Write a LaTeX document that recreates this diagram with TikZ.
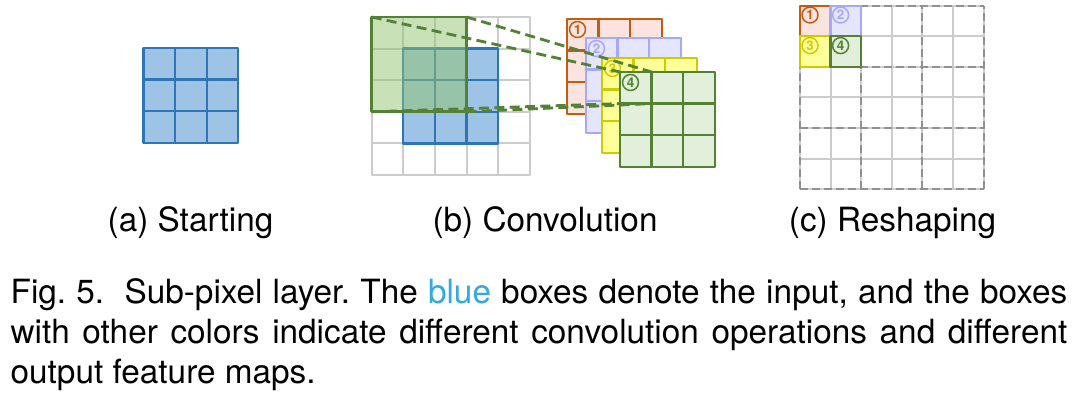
\documentclass[tikz,border=0pt]{standalone}
\usepackage{fontspec}
\setmainfont{TeX Gyre Heros}
\frenchspacing

\definecolor{inblue}{RGB}{46,117,182}
\definecolor{inbluefill}{RGB}{157,195,230}
\definecolor{gridgray}{RGB}{204,204,204}
\definecolor{dashgray}{RGB}{145,145,145}
\definecolor{mapred}{RGB}{197,90,17}
\definecolor{mapredfill}{RGB}{251,228,224}
\definecolor{mappurple}{RGB}{168,168,250}
\definecolor{mappurplefill}{RGB}{229,229,251}
\definecolor{mapyellow}{RGB}{206,204,0}
\definecolor{mapyellowfill}{RGB}{255,255,153}
\definecolor{mapgreen}{RGB}{84,130,53}
\definecolor{mapgreenfill}{RGB}{226,239,218}
\definecolor{winfill}{RGB}{146,196,110}
\definecolor{capblue}{RGB}{52,168,224}

\begin{document}
\begin{tikzpicture}[x=0.3pt, y=0.3pt, line join=round,
    graylines/.style={gridgray, line width=0.6pt},
    bluegrid/.style={inblue, line width=0.7pt},
    fmap/.style={line width=0.7pt},
    cellbox/.style={rectangle, inner sep=0pt, outer sep=0pt, minimum size=9.48pt},
    rcell/.style={rectangle, inner sep=0pt, outer sep=0pt, minimum size=9.18pt, line width=0.7pt},
    window/.style={rectangle, inner sep=0pt, outer sep=0pt, minimum size=28.44pt,
        draw=mapgreen, line width=0.8pt, fill=winfill, fill opacity=0.5},
    num/.style={circle, draw, line width=0.45pt, inner sep=0pt, minimum size=4.8pt,
        font=\fontsize{4}{4}\selectfont\bfseries},
    link/.style={mapgreen, line width=0.85pt, dash pattern=on 3pt off 1.6pt},
    dashgrid/.style={dashgray, line width=0.6pt, dash pattern=on 2.4pt off 1.2pt},
    caption/.style={font=\fontsize{10}{12}\selectfont, inner sep=0pt}]

    \useasboundingbox (0,0) rectangle (1074,401);

    % (a) starting
    \begin{scope}[shift={(143.5,258.2)}]
        \fill[inbluefill] (0,0) rectangle (94.8,94.8);
        \draw[bluegrid, step=31.6] (0,0) grid (94.8,94.8);
        \draw[bluegrid] (0,0) rectangle (94.8,94.8);
    \end{scope}

    % (b) convolution
    \begin{scope}[shift={(371.7,226)}]
        \draw[graylines, step=31.6] (0,0) grid (158,158);
        \draw[graylines] (0,0) rectangle (158,158);
        \fill[inbluefill] (31.6,31.6) rectangle (126.4,126.4);
        \draw[bluegrid, step=31.6] (31.6,31.6) grid (126.4,126.4);
        \draw[bluegrid] (31.6,31.6) rectangle (126.4,126.4);
        \node[window, anchor=north west] (win) at (0,158) {};
    \end{scope}

    % output feature maps
    \foreach \px/\py/\col/\n in {567/287.2/mapred/1, 586/268.2/mappurple/2,
                                  602/248.2/mapyellow/3, 620/234.2/mapgreen/4} {
        \begin{scope}[shift={(\px,\py)}]
            \fill[\col fill] (0,0) rectangle (94.8,94.8);
            \draw[\col, fmap, step=31.6] (0,0) grid (94.8,94.8);
            \draw[\col, fmap] (0,0) rectangle (94.8,94.8);
            \node[cellbox, anchor=north west] (cell\n) at (0,94.8) {};
            \node[num, \col] (num\n) at (10.5,84.3) {\n};
        \end{scope}
    }

    \draw[link] (win.north west) -- (cell4.north west);
    \draw[link] (win.north east) -- (cell4.north east);
    \draw[link] (win.south west) -- (cell4.south west);
    \draw[link] (win.south east) -- (cell4.south east);

    % (c) reshaping
    \begin{scope}[shift={(800,211.7)}]
        \draw[graylines, step=30.6] (0,0) grid (183.6,183.6);
        \foreach \k in {0,61.2,122.4,183.6} {
            \draw[dashgrid] (\k,0) -- (\k,183.6);
            \draw[dashgrid] (0,\k) -- (183.6,\k);
        }
        \node[rcell, draw=mapred, fill=mapredfill, anchor=north west] (r1) at (0,183.6) {};
        \node[rcell, draw=mappurple, fill=mappurplefill, anchor=north west] (r2) at (30.6,183.6) {};
        \node[rcell, draw=mapyellow, fill=mapyellowfill, anchor=north west] (r3) at (0,153) {};
        \node[rcell, draw=mapgreen, fill=mapgreenfill, anchor=north west] (r4) at (30.6,153) {};
        \node[num, mapred] (rn1) at (10,174.3) {1};
        \node[num, mappurple] (rn2) at (40.6,174.3) {2};
        \node[num, mapyellow] (rn3) at (10,143.7) {3};
        \node[num, mapgreen] (rn4) at (40.6,143.7) {4};
    \end{scope}

    % captions
    \node[caption, anchor=base] (capa) at (190.5,169) {(a) Starting};
    \node[caption, anchor=base] (capb) at (545,169) {(b) Convolution};
    \node[caption, anchor=base] (capc) at (892.5,169) {(c) Reshaping};

    \node[caption, anchor=north west, text width=317pt, align=justify] (fig) at (10,123)
        {Fig.~5.\ \ Sub-pixel layer. The \textcolor{capblue}{blue} boxes denote the input, and the boxes\linebreak
         with other colors indicate different convolution operations and different\linebreak
         output feature maps.};

\end{tikzpicture}
\end{document}
